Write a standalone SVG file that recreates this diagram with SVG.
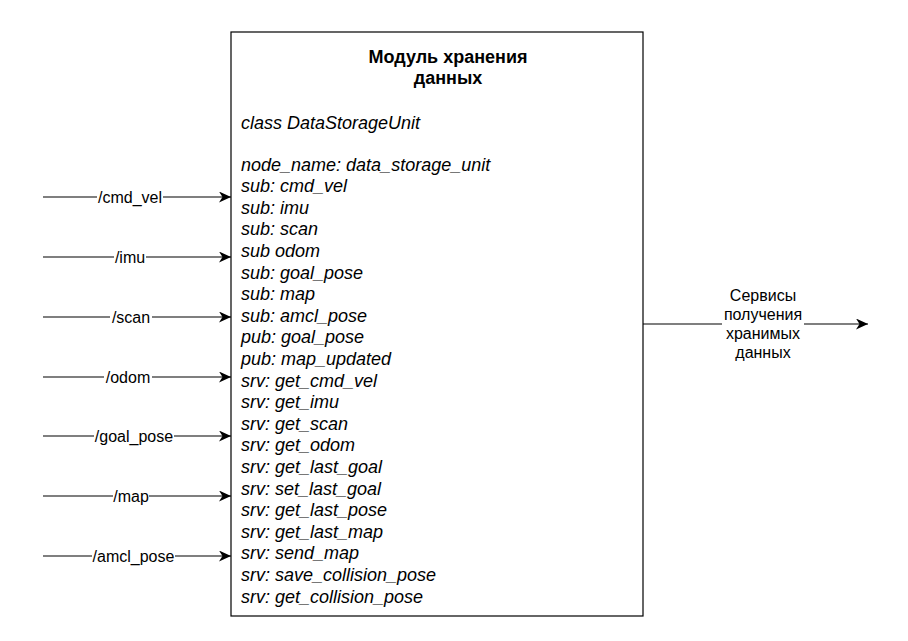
<svg xmlns="http://www.w3.org/2000/svg" width="908" height="641" viewBox="0 0 908 641">
<style>
.edge{stroke:#000;stroke-width:1.2;fill:none}
.lbl{font-family:"Liberation Sans",Arial,sans-serif;font-size:16px;fill:#000;text-anchor:middle}
.bg{fill:#fff}
.body{font-family:"Liberation Sans",Arial,sans-serif;font-size:18px;font-style:italic;fill:#000}
.title{font-family:"Liberation Sans",Arial,sans-serif;font-size:18px;font-weight:bold;fill:#000;text-anchor:middle}
</style>
<defs>
<marker id="arr" markerWidth="13" markerHeight="11" refX="12" refY="5.5" orient="auto" markerUnits="userSpaceOnUse">
<path d="M0,0 L12,5.5 L0,11 L3.5,5.5 Z" fill="#000"/>
</marker>
</defs>
<rect width="908" height="641" fill="#fff"/>
<g id="connectors">
<line class="edge" x1="43" y1="197" x2="231" y2="197" marker-end="url(#arr)"/>
<line class="edge" x1="43" y1="257" x2="231" y2="257" marker-end="url(#arr)"/>
<line class="edge" x1="43" y1="317" x2="231" y2="317" marker-end="url(#arr)"/>
<line class="edge" x1="43" y1="377" x2="231" y2="377" marker-end="url(#arr)"/>
<line class="edge" x1="43" y1="436" x2="231" y2="436" marker-end="url(#arr)"/>
<line class="edge" x1="43" y1="496" x2="231" y2="496" marker-end="url(#arr)"/>
<line class="edge" x1="43" y1="556" x2="231" y2="556" marker-end="url(#arr)"/>
<line class="edge" x1="643" y1="324" x2="868" y2="324" marker-end="url(#arr)"/>
<rect class="bg" x="97" y="188" width="66" height="18"/>
<text class="lbl" x="130" y="202.5">/cmd_vel</text>
<rect class="bg" x="114" y="248" width="32" height="18"/>
<text class="lbl" x="130" y="262.5">/imu</text>
<rect class="bg" x="110" y="308" width="42" height="18"/>
<text class="lbl" x="131" y="322.5">/scan</text>
<rect class="bg" x="104" y="368" width="48" height="18"/>
<text class="lbl" x="128" y="382.5">/odom</text>
<rect class="bg" x="94" y="427" width="80" height="18"/>
<text class="lbl" x="134" y="441.5">/goal_pose</text>
<rect class="bg" x="113" y="487" width="36" height="18"/>
<text class="lbl" x="131" y="501.5">/map</text>
<rect class="bg" x="92" y="547" width="83" height="18"/>
<text class="lbl" x="133.5" y="561.5">/amcl_pose</text>
<rect class="bg" x="722" y="285" width="82" height="78"/>
<text class="lbl" x="763" y="300.5">Сервисы</text>
<text class="lbl" x="763" y="319.7">получения</text>
<text class="lbl" x="763" y="338.9">хранимых</text>
<text class="lbl" x="763" y="358.1">данных</text>
</g>
<g id="data_storage_unit">
<rect x="231" y="32" width="412" height="584" fill="#fff" stroke="#000" stroke-width="1.2"/>
<text class="title" x="448" y="62.5">Модуль хранения</text>
<text class="title" x="448" y="84">данных</text>
<text class="body" x="241" y="128.5">class DataStorageUnit</text>
<text class="body" x="241" y="170.5">node_name: data_storage_unit</text>
<text class="body" x="241" y="192.1">sub: cmd_vel</text>
<text class="body" x="241" y="213.7">sub: imu</text>
<text class="body" x="241" y="235.3">sub: scan</text>
<text class="body" x="241" y="256.9">sub odom</text>
<text class="body" x="241" y="278.5">sub: goal_pose</text>
<text class="body" x="241" y="300.1">sub: map</text>
<text class="body" x="241" y="321.7">sub: amcl_pose</text>
<text class="body" x="241" y="343.3">pub: goal_pose</text>
<text class="body" x="241" y="364.9">pub: map_updated</text>
<text class="body" x="241" y="386.5">srv: get_cmd_vel</text>
<text class="body" x="241" y="408.1">srv: get_imu</text>
<text class="body" x="241" y="429.7">srv: get_scan</text>
<text class="body" x="241" y="451.3">srv: get_odom</text>
<text class="body" x="241" y="472.9">srv: get_last_goal</text>
<text class="body" x="241" y="494.5">srv: set_last_goal</text>
<text class="body" x="241" y="516.1">srv: get_last_pose</text>
<text class="body" x="241" y="537.7">srv: get_last_map</text>
<text class="body" x="241" y="559.3">srv: send_map</text>
<text class="body" x="241" y="580.9">srv: save_collision_pose</text>
<text class="body" x="241" y="602.5">srv: get_collision_pose</text>
</g>
</svg>
